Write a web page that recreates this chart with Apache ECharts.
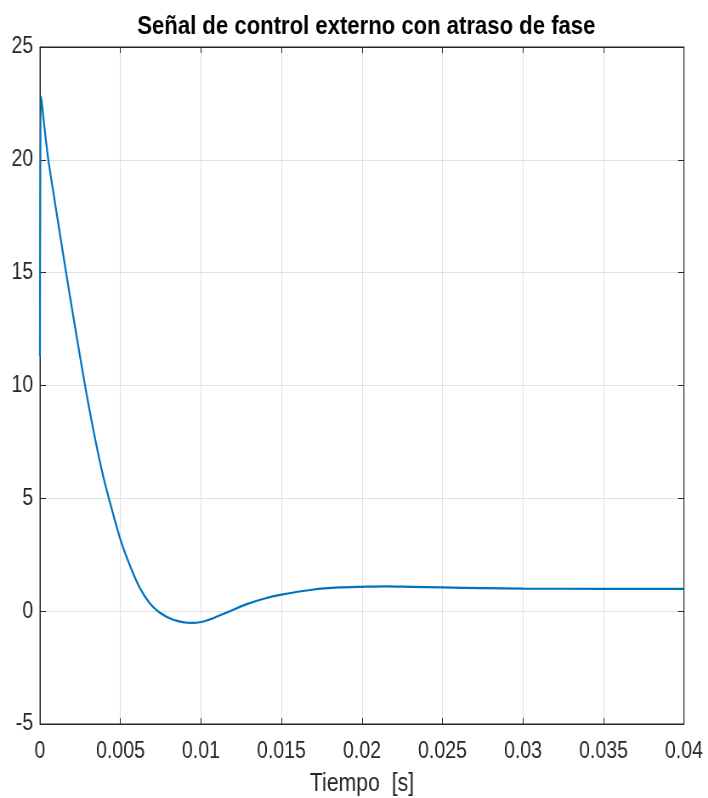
<!DOCTYPE html>
<html>
<head>
<meta charset="utf-8">
<script src="https://cdn.jsdelivr.net/npm/echarts@6/dist/echarts.min.js"></script>
<style>
html,body{margin:0;padding:0;background:#fff;overflow:hidden;width:708px;height:798px;}
#c{width:833px;height:798px;transform:scaleX(0.85);transform-origin:0 0;}
</style>
</head>
<body>
<div id="c"></div>
<script>
var titleText = 'Señal de control externo con atraso de fase';
var xAxisName = 'Tiempo  [s]';
var timeValues = [0, 0.00005, 0.0001, 0.0003, 0.0005, 0.0008, 0.0012, 0.0016, 0.0022, 0.0028, 0.00331, 0.00383, 0.00428, 0.005, 0.0056, 0.0062, 0.00683, 0.00745, 0.00828, 0.0094, 0.01, 0.0108, 0.0118, 0.0128, 0.0139, 0.015, 0.017, 0.0186, 0.02, 0.0215, 0.023, 0.025, 0.0275, 0.03, 0.035, 0.04];
var signalValues = [11.3, 22.8, 22.6, 21.3, 20.1, 18.7, 16.9, 15.1, 12.5, 10.0, 8.05, 6.28, 5.0, 3.17, 2.0, 1.03, 0.34, -0.07, -0.38, -0.52, -0.48, -0.3, 0.0, 0.3, 0.55, 0.73, 0.96, 1.05, 1.08, 1.1, 1.08, 1.05, 1.02, 1.0, 0.99, 0.99];
var xTickLabels = ['0', '0.005', '0.01', '0.015', '0.02', '0.025', '0.03', '0.035', '0.04'];
var yTickLabels = ['-5', '0', '5', '10', '15', '20', '25'];

var FONT = "'Liberation Sans', Arial, Helvetica, sans-serif";
var AX = '#262626';
var seriesData = timeValues.map(function (t, i) { return [t, signalValues[i]]; });

var chart = echarts.init(document.getElementById('c'), null, { renderer: 'canvas', width: 833, height: 798 });
chart.setOption({
  animation: false,
  backgroundColor: '#fff',
  title: {
    text: titleText, left: 426, top: 9, textAlign: 'center',
    textStyle: { fontFamily: FONT, fontSize: 26, fontWeight: 'bold', color: '#000' }
  },
  grid: { left: 47, right: 28.3, top: 47, bottom: 74, show: true, borderColor: AX, borderWidth: 1, backgroundColor: 'transparent', containLabel: false, outerBoundsMode: 'none' },
  xAxis: [{
    type: 'value', min: 0, max: 0.04, interval: 0.005, position: 'bottom',
    name: xAxisName, nameLocation: 'middle', nameGap: 48,
    nameTextStyle: { fontFamily: FONT, fontSize: 25, color: AX },
    axisLine: { show: true, onZero: false, lineStyle: { color: AX, width: 1 } },
    axisTick: { show: true, inside: true, length: 6, lineStyle: { color: AX } },
    axisLabel: { margin: 16, fontFamily: FONT, fontSize: 23, color: AX,
      formatter: function (v) { return xTickLabels[Math.round(v / 0.005)]; } },
    splitLine: { show: true, lineStyle: { color: '#e0e0e0', width: 1 } }
  }, {
    type: 'value', min: 0, max: 0.04, interval: 0.005, position: 'top',
    axisLine: { show: true, onZero: false, lineStyle: { color: AX } },
    axisTick: { show: true, inside: true, length: 6, lineStyle: { color: AX } },
    axisLabel: { show: false }, splitLine: { show: false }
  }],
  yAxis: [{
    type: 'value', min: -5, max: 25, interval: 5, position: 'left',
    axisLine: { show: true, onZero: false, lineStyle: { color: AX, width: 1 } },
    axisTick: { show: true, inside: true, length: 7, lineStyle: { color: AX } },
    axisLabel: { margin: 8, fontFamily: FONT, fontSize: 23, color: AX,
      formatter: function (v) { return yTickLabels[Math.round((v + 5) / 5)]; } },
    splitLine: { show: true, lineStyle: { color: '#e0e0e0', width: 1 } }
  }, {
    type: 'value', min: -5, max: 25, interval: 5, position: 'right',
    axisLine: { show: true, onZero: false, lineStyle: { color: AX } },
    axisTick: { show: true, inside: true, length: 7, lineStyle: { color: AX } },
    axisLabel: { show: false }, splitLine: { show: false }
  }],
  series: [{
    type: 'line', xAxisIndex: 0, yAxisIndex: 0, data: seriesData,
    showSymbol: false, smooth: 0.3,
    lineStyle: { color: '#0072BD', width: 2.2 }, z: 3
  }]
});
</script>
</body>
</html>
